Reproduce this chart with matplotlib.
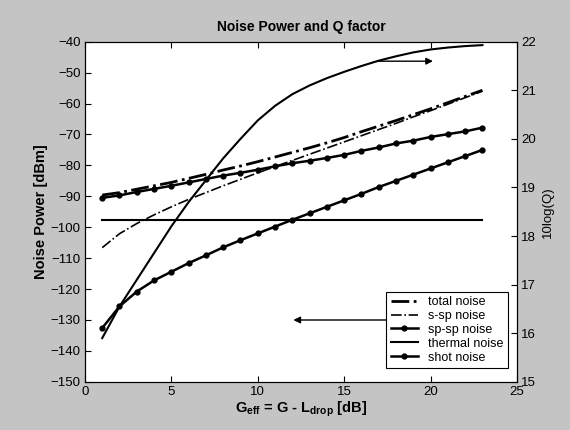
import matplotlib
matplotlib.use("Agg")
import matplotlib.pyplot as plt

plt.rcParams['font.family'] = ['Liberation Sans', 'DejaVu Sans']
plt.rcParams['mathtext.fontset'] = 'custom'
plt.rcParams['mathtext.rm'] = 'Liberation Sans'
plt.rcParams['mathtext.bf'] = 'Liberation Sans:bold'

# gain in dB
g_eff = list(range(1, 24))

# noise powers [dBm]
total_noise = [-89.6, -88.8, -87.7, -86.6, -85.5, -84.2, -82.9, -81.5, -80.2, -78.8,
               -77.3, -75.8, -74.3, -72.7, -71.0, -69.1, -67.3, -65.5, -63.6, -61.7,
               -59.7, -57.7, -55.7]
ssp_noise = [-106.6, -102.1, -98.8, -96.0, -93.4, -91.0, -88.8, -86.6, -84.5, -82.4,
             -80.4, -78.4, -76.4, -74.4, -72.4, -70.4, -68.4, -66.4, -64.3, -62.3,
             -60.2, -58.1, -56.0]
spsp_noise = [-90.5, -89.7, -88.6, -87.6, -86.6, -85.5, -84.4, -83.3, -82.4, -81.4,
              -80.3, -79.3, -78.5, -77.6, -76.6, -75.3, -74.2, -72.9, -72.0, -70.8,
              -69.9, -69.0, -67.8]
thermal_noise = [-97.7] * 23
shot_noise = [-132.6, -125.6, -120.8, -117.2, -114.4, -111.6, -109.1, -106.5, -104.2, -102.0,
              -99.8, -97.6, -95.5, -93.4, -91.3, -89.2, -87.0, -85.0, -83.0, -81.0,
              -79.0, -77.0, -75.0]

# Q factor, 10log(Q)
q_db = [15.9, 16.55, 17.1, 17.65, 18.2, 18.7, 19.15, 19.6, 20.0, 20.38,
        20.68, 20.92, 21.1, 21.25, 21.38, 21.5, 21.61, 21.7, 21.78, 21.84,
        21.88, 21.91, 21.93]

fig = plt.figure(figsize=(5.7, 4.3), dpi=100, facecolor='#c4c4c4')
ax = fig.add_axes([0.149, 0.112, 0.758, 0.791])
ax.set_facecolor('white')

ax.plot(g_eff, total_noise, color='k', lw=2.0, ls='-.', label='total noise')
ax.plot(g_eff, ssp_noise, color='k', lw=1.2, ls='-.', label='s-sp noise')
ax.plot(g_eff, spsp_noise, color='k', lw=1.8, marker='o', ms=3.5, label='sp-sp noise')
ax.plot(g_eff, thermal_noise, color='k', lw=1.5, label='thermal noise')
ax.plot(g_eff, shot_noise, color='k', lw=1.8, marker='o', ms=3.5, label='shot noise')

ax.set_xlim(0, 25)
ax.set_ylim(-150, -40)
ax.set_xticks(range(0, 26, 5))
ax.set_yticks(range(-150, -39, 10))
ax.tick_params(direction='in', top=True, right=True, labelsize=9.5, length=4, pad=3)

ax.annotate('', xy=(11.9, -130), xytext=(18, -130),
            arrowprops=dict(arrowstyle='-|>', color='k', lw=1.0, mutation_scale=10))
ax.annotate('', xy=(20.3, -46.3), xytext=(16.8, -46.3),
            arrowprops=dict(arrowstyle='-|>', color='k', lw=1.0, mutation_scale=10))

leg = ax.legend(loc='lower right', bbox_to_anchor=(0.979, 0.041), fontsize=9,
                frameon=True, fancybox=False, edgecolor='k', framealpha=1,
                handlelength=2.2, labelspacing=0.15, borderpad=0.35, handletextpad=0.8,
                borderaxespad=0)
leg.get_frame().set_linewidth(0.8)
leg.set_zorder(10)

ax.set_title('Noise Power and Q factor', fontsize=10, fontweight='bold', pad=8)
ax.set_ylabel('Noise Power [dBm]', fontsize=10.5, fontweight='bold', labelpad=2)
ax.set_xlabel(r'$\mathbf{G_{eff}}$ = G - $\mathbf{L_{drop}}$ [dB]', fontsize=10.5,
              fontweight='bold', labelpad=1)

ax2 = ax.twinx()
ax2.plot(g_eff, q_db, color='k', lw=1.5)
ax2.set_ylim(15, 22)
ax2.set_yticks(range(15, 23))
ax2.tick_params(direction='in', labelsize=9.5, length=4, pad=3)
ax2.set_ylabel('10log(Q)', fontsize=9.5, labelpad=4)

fig.savefig('out.png', dpi=100, facecolor=fig.get_facecolor())
